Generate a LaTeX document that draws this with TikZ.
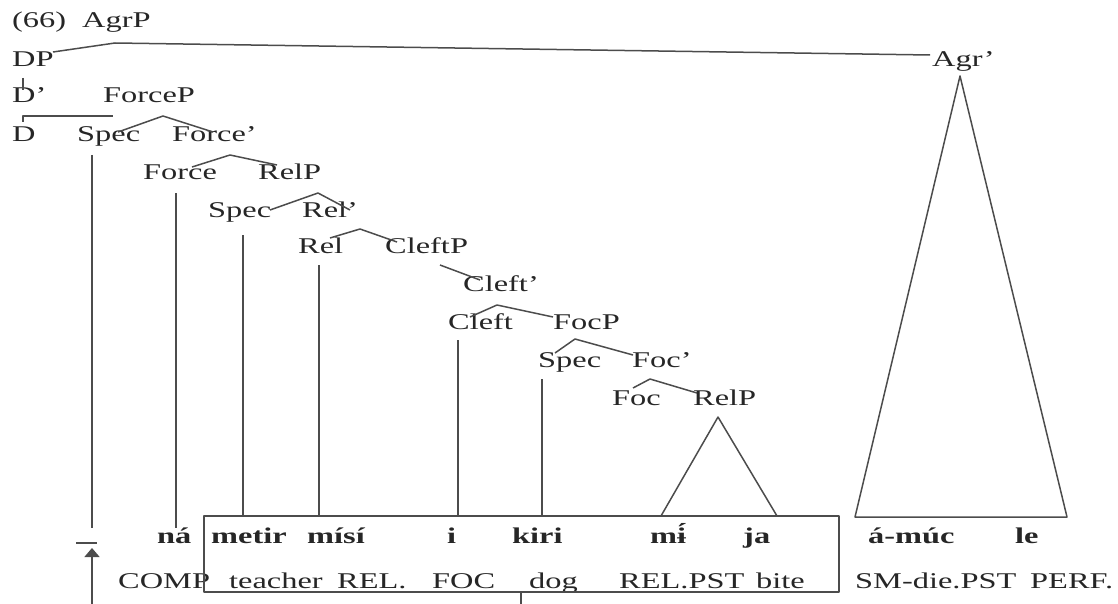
\documentclass[tikz,border=0pt]{standalone}
\usepackage{fontspec}
\setmainfont{Liberation Serif}[FakeStretch=1.44]
\usetikzlibrary{arrows.meta}
\begin{document}
\begin{tikzpicture}[x=1pt,y=-1pt,
  lbl/.style={anchor=base west,inner sep=0pt,font=\fontsize{22.5}{26}\selectfont,text=black!85},
  wd/.style={anchor=base west,inner sep=0pt,font=\fontsize{22.5}{26}\selectfont\bfseries,text=black!85},
  br/.style={line width=1.5pt,draw=black!70,line join=round}]
\useasboundingbox (0,0) rectangle (1118,604);
% tree labels
\node[lbl] (ex) at (12,28) {(66)};
\node[lbl] (agrp) at (82,28) {AgrP};
\node[lbl] (dp) at (12,67) {DP};
\node[lbl] (agrbar) at (932,67) {Agr’};
\node[lbl] (dbar) at (12,103) {D’};
\node[lbl] (forcep) at (103,103) {ForceP};
\node[lbl] (d) at (12,142) {D};
\node[lbl] (spec1) at (77,142) {Spec};
\node[lbl] (forcebar) at (172,142) {Force’};
\node[lbl] (force) at (143,180) {Force};
\node[lbl] (relp1) at (258,180) {RelP};
\node[lbl] (spec2) at (208,217) {Spec};
\node[lbl] (relbar) at (302,217) {Rel’};
\node[lbl] (rel) at (298,253) {Rel};
\node[lbl] (cleftp) at (385,253) {CleftP};
\node[lbl] (cleftbar) at (463,291) {Cleft’};
\node[lbl] (cleft) at (448,329) {Cleft};
\node[lbl] (focp) at (553,329) {FocP};
\node[lbl] (spec3) at (538,367) {Spec};
\node[lbl] (focbar) at (632,367) {Foc’};
\node[lbl] (foc) at (612,405) {Foc};
\node[lbl] (relp2) at (693,405) {RelP};
% words
\node[wd] (w1) at (157,543) {ná};
\node[wd] (w2) at (211,543) {metir};
\node[wd] (w3) at (307,543) {mísí};
\node[wd] (w4) at (447,543) {i};
\node[wd] (w5) at (512,543) {kiri};
\node[wd] (w6) at (650,543) {mɨ́};
\node[wd] (w7) at (743,543) {ja};
\node[wd] (w8) at (868,543) {á-múc};
\node[wd] (w9) at (1015,543) {le};
% glosses
\node[lbl] (g1) at (118,588) {COMP};
\node[lbl] (g2) at (229,588) {teacher};
\node[lbl] (g3) at (337,588) {REL.};
\node[lbl] (g4) at (432,588) {FOC};
\node[lbl] (g5) at (529,588) {dog};
\node[lbl] (g6) at (619,588) {REL.PST};
\node[lbl] (g7) at (756,588) {bite};
\node[lbl] (g8) at (855,588) {SM-die.PST};
\node[lbl] (g9) at (1030,588) {PERF.};
% coordinates
\coordinate (agrL) at (53,52);
\coordinate (agrA) at (115,43);
\coordinate (agrR) at (930,55);
\coordinate (dpT) at (23,78);
\coordinate (dpB) at (23,90);
\coordinate (dbL) at (23,122);
\coordinate (dbC) at (23,116);
\coordinate (dbR) at (113,116);
\coordinate (fpA) at (163,116);
\coordinate (fpL) at (118,132);
\coordinate (fpR) at (213,132);
\coordinate (fbA) at (230,155);
\coordinate (fbL) at (192,167);
\coordinate (fbR) at (277,165);
\coordinate (rpA) at (318,193);
\coordinate (rpL) at (270,210);
\coordinate (rpR) at (350,210);
\coordinate (rbA) at (360,229);
\coordinate (rbL) at (330,238);
\coordinate (rbR) at (397,242);
\coordinate (cpT) at (440,265);
\coordinate (cpB) at (480,280);
\coordinate (cbA) at (497,305);
\coordinate (cbL) at (470,317);
\coordinate (cbR) at (553,317);
\coordinate (fcA) at (575,339);
\coordinate (fcL) at (555,353);
\coordinate (fcR) at (633,355);
\coordinate (fbbA) at (650,379);
\coordinate (fbbL) at (633,388);
\coordinate (fbbR) at (697,393);
\coordinate (triA) at (718,417);
\coordinate (triL) at (661,516);
\coordinate (triR) at (777,516);
\coordinate (bigA) at (960,76);
\coordinate (bigL) at (855,517);
\coordinate (bigR) at (1067,517);
% vertical lines
\coordinate (v1t) at (92,155); \coordinate (v1b) at (92,528);
\coordinate (v2t) at (176,193); \coordinate (v2b) at (176,528);
\coordinate (v3t) at (243,235); \coordinate (v3b) at (243,516);
\coordinate (v4t) at (319,265); \coordinate (v4b) at (319,516);
\coordinate (v5t) at (458,340); \coordinate (v5b) at (458,516);
\coordinate (v6t) at (542,379); \coordinate (v6b) at (542,516);
% box
\coordinate (boxTL) at (204,516);
\coordinate (boxBR) at (839,592);
\coordinate (boxStem) at (521,592);
\coordinate (boxStemB) at (521,604);
% arrow
\coordinate (arB) at (92,604);
\coordinate (arT) at (92,548);
\coordinate (barL) at (76,543);
\coordinate (barR) at (97,543);

\draw[br] (agrL) -- (agrA) -- (agrR);
\draw[br] (dpT) -- (dpB);
\draw[br] (dbL) -- (dbC) -- (dbR);
\draw[br] (fpL) -- (fpA) -- (fpR);
\draw[br] (fbL) -- (fbA) -- (fbR);
\draw[br] (rpL) -- (rpA) -- (rpR);
\draw[br] (rbL) -- (rbA) -- (rbR);
\draw[br] (cpT) -- (cpB);
\draw[br] (cbL) -- (cbA) -- (cbR);
\draw[br] (fcL) -- (fcA) -- (fcR);
\draw[br] (fbbL) -- (fbbA) -- (fbbR);
\draw[br] (triL) -- (triA) -- (triR);
\draw[br] (bigL) -- (bigA) -- (bigR) -- cycle;
\foreach \i in {1,...,6} \draw[br] (v\i t) -- (v\i b);
\draw[br] (boxTL) rectangle (boxBR);
\draw[br] (boxStem) -- (boxStemB);
\draw[br,-{Triangle[length=9pt,width=15pt]}] (arB) -- (arT);
\draw[br] (barL) -- (barR);
\end{tikzpicture}
\end{document}
